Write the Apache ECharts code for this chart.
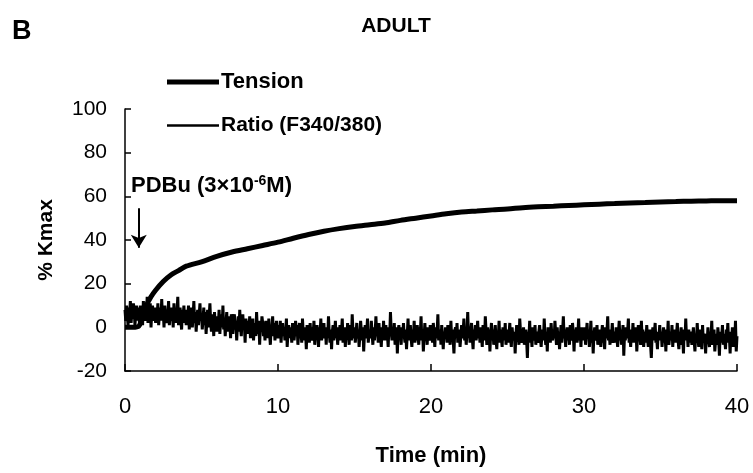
<!DOCTYPE html>
<html>
<head>
<meta charset="utf-8">
<script src="https://cdn.jsdelivr.net/npm/echarts@6/dist/echarts.min.js"></script>
<style>html,body{margin:0;padding:0;background:#fff}#c{width:753px;height:473px}</style>
</head>
<body>
<div id="c"></div>
<script>
var panelLabel = 'B';
var chartTitle = 'ADULT';
var xName = 'Time (min)';
var yName = '% Kmax';
var seriesNames = ['Tension', 'Ratio (F340/380)'];
var xTicks = [0, 10, 20, 30, 40];
var yTicks = [-20, 0, 20, 40, 60, 80, 100];

// Tension trace: [time (min), % Kmax]
var tensionTime = [0, 0.5, 0.9, 1.1, 1.4, 1.7, 2, 2.5, 3, 3.5, 4, 5, 6, 7, 8, 9, 10, 11, 12, 13, 14, 15, 16, 17, 18, 19, 20, 21, 22, 23, 24, 25, 26, 27, 28, 29, 30, 31, 32, 33, 34, 35, 36, 37, 38, 39, 40];
var tensionValues = [0, 0, 0.5, 4, 10, 14, 17, 21, 24, 26, 28, 30, 32.5, 34.5, 36, 37.5, 39, 40.8, 42.5, 44, 45.2, 46.2, 47, 47.8, 49, 50, 51, 52, 52.8, 53.3, 53.8, 54.2, 54.8, 55.2, 55.5, 55.8, 56.1, 56.4, 56.7, 57, 57.2, 57.4, 57.6, 57.8, 57.9, 58, 58];

// Ratio trace sampled every 0.05 min from 0 to 40 min (one row per minute)
var ratioStep = 0.05;
var ratioValues = [
 8, 3, 10, 5, 1, 9, 6, 12, 2, 7, 4, 11, 8, 1, 6, 10, 3, 9, 5, 2,
 10, 4, 7, 1, 12, 6, 3, 9, 5, 14, 2, 8, 4, 11, 0, 7, 10, 3, 6, 9,
 2, 8, 5, 11, 1, 6, 9, 3, 13, 4, 7, 0, 10, 5, 2, 8, 6, 12, 1, 7,
 9, 3, 6, 0, 11, 4, 8, 2, 7, 14, 1, 5, 9, 3, -1, 8, 5, 10, 2, 6,
 1, 8, 4, 10, -1, 6, 3, 9, 0, 5, 12, 2, 7, -2, 4, 8, 1, 6, 11, 3,
 6, -1, 4, 9, 1, 7, -3, 3, 8, 0, 5, 11, 2, -2, 6, 4, -4, 7, 1, 3,
 -2, 5, 1, 8, -3, 3, 6, 0, 10, -1, 4, -4, 2, 7, -2, 5, 0, 3, -5, 6,
 4, -3, 2, 6, -1, 3, -6, 1, 5, -2, 8, 0, -4, 3, 6, -1, 2, -7, 4, 0,
 -3, 3, -1, 5, -5, 1, -2, 4, -6, 0, 2, -4, 7, -1, -3, 3, -8, 1, -2, 5,
 2, -4, 0, -6, 3, -2, 1, -5, 4, -3, -8, 0, -1, 5, -4, 2, -6, -1, 3, -3,
 -5, 1, -3, 3, -7, -1, 2, -4, 0, -6, -2, 4, -9, -3, 1, -5, 0, -2, -7, 2,
 0, -6, -2, 3, -4, 1, -8, -3, 2, -5, -1, -7, 4, -3, 0, -6, -2, -10, 1, -4,
 -1, -7, 2, -4, -6, 0, -3, 3, -8, -2, -5, 1, -4, -9, 0, -3, 4, -6, -1, -5,
 2, -5, -1, -8, 0, -4, 5, -3, -7, -1, -10, -2, 1, -6, -3, 3, -5, 0, -8, -2,
 -4, 1, -6, -2, 4, -7, -3, 0, -9, -1, -5, 2, -4, -8, 1, -3, -6, 6, -2, -5,
 0, -7, -3, 2, -5, -1, -9, -4, 3, -2, -6, 0, -11, -3, 1, -5, -2, 4, -7, -3,
 -1, -5, 3, -3, -8, 0, -6, -2, 5, -4, -1, -7, 2, -5, -3, -9, 0, -4, 3, -6,
 -2, 1, -6, -3, -9, 0, -4, 7, -2, -6, -1, -5, 2, -8, -3, 0, -12, -2, 1, -5,
 -3, -8, 0, -5, 2, -4, -7, -1, -10, -3, 4, -6, -2, 1, -5, -9, -1, -4, 3, -7,
 -2, -6, 1, -4, -8, 0, -3, 5, -6, -1, -11, -4, 2, -5, -2, -8, 0, -4, -6, 1,
 -5, -1, -7, 2, -3, -9, 0, -5, -2, 6, -6, -3, -1, -8, 1, -4, -10, -2, -5, 0,
 -3, -7, 1, -4, -2, -8, 3, -5, -1, -6, -12, -2, 0, -5, 2, -7, -3, -1, -9, -4,
 1, -5, -2, 4, -6, -1, -8, -3, 7, -4, 0, -7, -2, 2, -5, -10, -1, -4, 1, -6,
 -2, 3, -5, -1, -7, 0, -4, -9, 1, -3, -6, 5, -2, -8, 0, -4, -1, -11, -3, 2,
 -6, -1, -8, -3, 1, -5, -10, -2, -4, 3, -7, -1, -5, -9, 0, -3, -6, 2, -8, -4,
 -1, -7, -3, 2, -5, -9, 0, -4, -6, -2, -12, -3, 1, -6, -4, -8, 4, -2, -7, -5,
 -3, 0, -8, -4, -1, -6, -14, -2, -5, 3, -7, -3, -9, 0, -4, -6, 1, -8, -2, -5,
 -7, -2, 1, -5, -9, -3, -1, -6, 4, -4, -8, -2, -11, 0, -5, -3, -7, 2, -4, -6,
 -1, -5, 3, -3, -8, 0, -6, -2, -10, -4, 1, -7, -2, 5, -5, -1, -9, -3, 0, -6,
 -2, -8, 1, -4, -6, 2, -3, -11, -1, -5, 0, -7, -3, 4, -6, -2, -9, 0, -4, -1,
 -6, 0, -8, -3, 2, -5, -1, -9, -4, 3, -7, -2, -12, -3, 0, -6, -4, 1, -8, -2,
 -5, -1, -9, -3, 1, -7, -4, -10, 0, -5, -2, 5, -6, -3, -8, -1, -4, 2, -7, -5,
 -2, -7, 0, -5, -9, -3, 3, -6, -1, -8, -4, 1, -13, -3, -6, 0, -5, -2, 4, -7,
 -3, -9, -1, -5, 2, -7, -2, -6, 0, -11, -4, 1, -6, -3, -8, 3, -5, -1, -9, -4,
 -2, -7, 1, -5, -9, -3, -1, -8, -14, -4, 0, -6, -3, 2, -7, -5, -10, -2, -4, 1,
 -6, -2, -9, -4, 0, -7, -3, -11, -1, -5, 3, -8, -4, -2, -6, 1, -9, -3, -5, -1,
 -7, -3, 2, -6, -10, -2, -5, 0, -8, -4, -12, -1, -6, 4, -5, -3, -9, -1, -7, -4,
 -2, -8, -4, 0, -6, -11, -3, -7, 2, -5, -9, -1, -6, -4, -10, 1, -7, -3, -5, -12,
 -3, -7, 0, -6, -9, -2, -5, 3, -8, -4, -1, -11, -6, -3, -8, 0, -5, -13, -2, -7,
 -4, 1, -8, -3, -6, -10, -1, -5, 2, -7, -4, -12, -2, -6, 0, -9, -3, -7, 3, -11,
 -4
];

// Stimulus annotation (PDBu addition)
var stimTime = 0.9;
var stimArrowFrom = 54.5;
var stimArrowTo = 36.5;

var tensionData = tensionTime.map(function (t, i) { return [t, tensionValues[i]]; });
var ratioData = ratioValues.map(function (v, i) { return [Math.round(i * ratioStep * 100) / 100, v]; });

var FONT = '"Liberation Sans", Arial, sans-serif';

var chart = echarts.init(document.getElementById('c'), null, { renderer: 'canvas' });
chart.setOption({
  animation: false,
  backgroundColor: '#ffffff',
  title: {
    text: chartTitle,
    left: 391, top: 11, textAlign: 'center',
    textStyle: { fontFamily: FONT, fontWeight: 'bold', fontSize: 21, color: '#000' }
  },
  legend: [
    {
      data: [{ name: seriesNames[0], icon: 'rect' }],
      left: 162, top: 66, itemWidth: 52, itemHeight: 5, itemGap: 0,
      textStyle: { fontFamily: FONT, fontWeight: 'bold', fontSize: 22, color: '#000', padding: [0, 0, 0, -3] },
      selectedMode: false
    },
    {
      data: [{ name: seriesNames[1], icon: 'rect' }],
      left: 162, top: 110, itemWidth: 52, itemHeight: 2.5, itemGap: 0,
      textStyle: { fontFamily: FONT, fontWeight: 'bold', fontSize: 21, color: '#000', padding: [0, 0, 0, -3] },
      selectedMode: false
    }
  ],
  grid: { left: 125, top: 109, width: 612, height: 262, containLabel: false },
  xAxis: {
    type: 'value', min: xTicks[0], max: xTicks[xTicks.length - 1], interval: 10,
    name: xName, nameLocation: 'middle', nameGap: 74,
    nameTextStyle: { fontFamily: FONT, fontWeight: 'bold', fontSize: 22, color: '#000' },
    axisLine: { show: true, onZero: false, lineStyle: { color: '#000', width: 1.5 } },
    axisTick: { show: true, inside: true, length: 7, lineStyle: { color: '#000', width: 1.5 } },
    axisLabel: { margin: 25, fontFamily: FONT, fontSize: 22, color: '#000' },
    splitLine: { show: false }
  },
  yAxis: {
    type: 'value', min: yTicks[0], max: yTicks[yTicks.length - 1], interval: 20,
    name: yName, nameLocation: 'middle', nameGap: 68, nameRotate: 90,
    nameTextStyle: { fontFamily: FONT, fontWeight: 'bold', fontSize: 21, color: '#000' },
    axisLine: { show: true, lineStyle: { color: '#000', width: 1.5 } },
    axisTick: { show: true, inside: true, length: 6, lineStyle: { color: '#000', width: 1.5 } },
    axisLabel: { margin: 18, fontFamily: FONT, fontSize: 21, color: '#000' },
    splitLine: { show: false }
  },
  graphic: [
    {
      type: 'text', left: 12, top: 18,
      style: { text: panelLabel, font: 'bold 27px ' + FONT, fill: '#000' }
    },
    {
      type: 'text', left: 131, top: 174,
      style: {
        text: '{a|PDBu (3×10}{s|-6}{a|M)}',
        rich: {
          a: { fontFamily: FONT, fontWeight: 'bold', fontSize: 22, fill: '#000', color: '#000' },
          s: { fontFamily: FONT, fontWeight: 'bold', fontSize: 14, fill: '#000', color: '#000', verticalAlign: 'top', padding: [0, 0, 10, 0] }
        }
      }
    }
  ],
  series: [
    {
      name: seriesNames[1], type: 'line', data: ratioData, showSymbol: false,
      lineStyle: { color: '#000', width: 3 }, itemStyle: { color: '#000' }, z: 2
    },
    {
      name: seriesNames[0], type: 'line', data: tensionData, showSymbol: false, smooth: 0.3,
      lineStyle: { color: '#000', width: 5 }, itemStyle: { color: '#000' }, z: 3,
      markLine: {
        silent: true, symbol: ['none', 'arrow'], symbolSize: [12, 13],
        label: { show: false },
        lineStyle: { color: '#000', width: 2, type: 'solid' },
        data: [[{ coord: [stimTime, stimArrowFrom] }, { coord: [stimTime, stimArrowTo] }]]
      }
    }
  ]
});
</script>
</body>
</html>
